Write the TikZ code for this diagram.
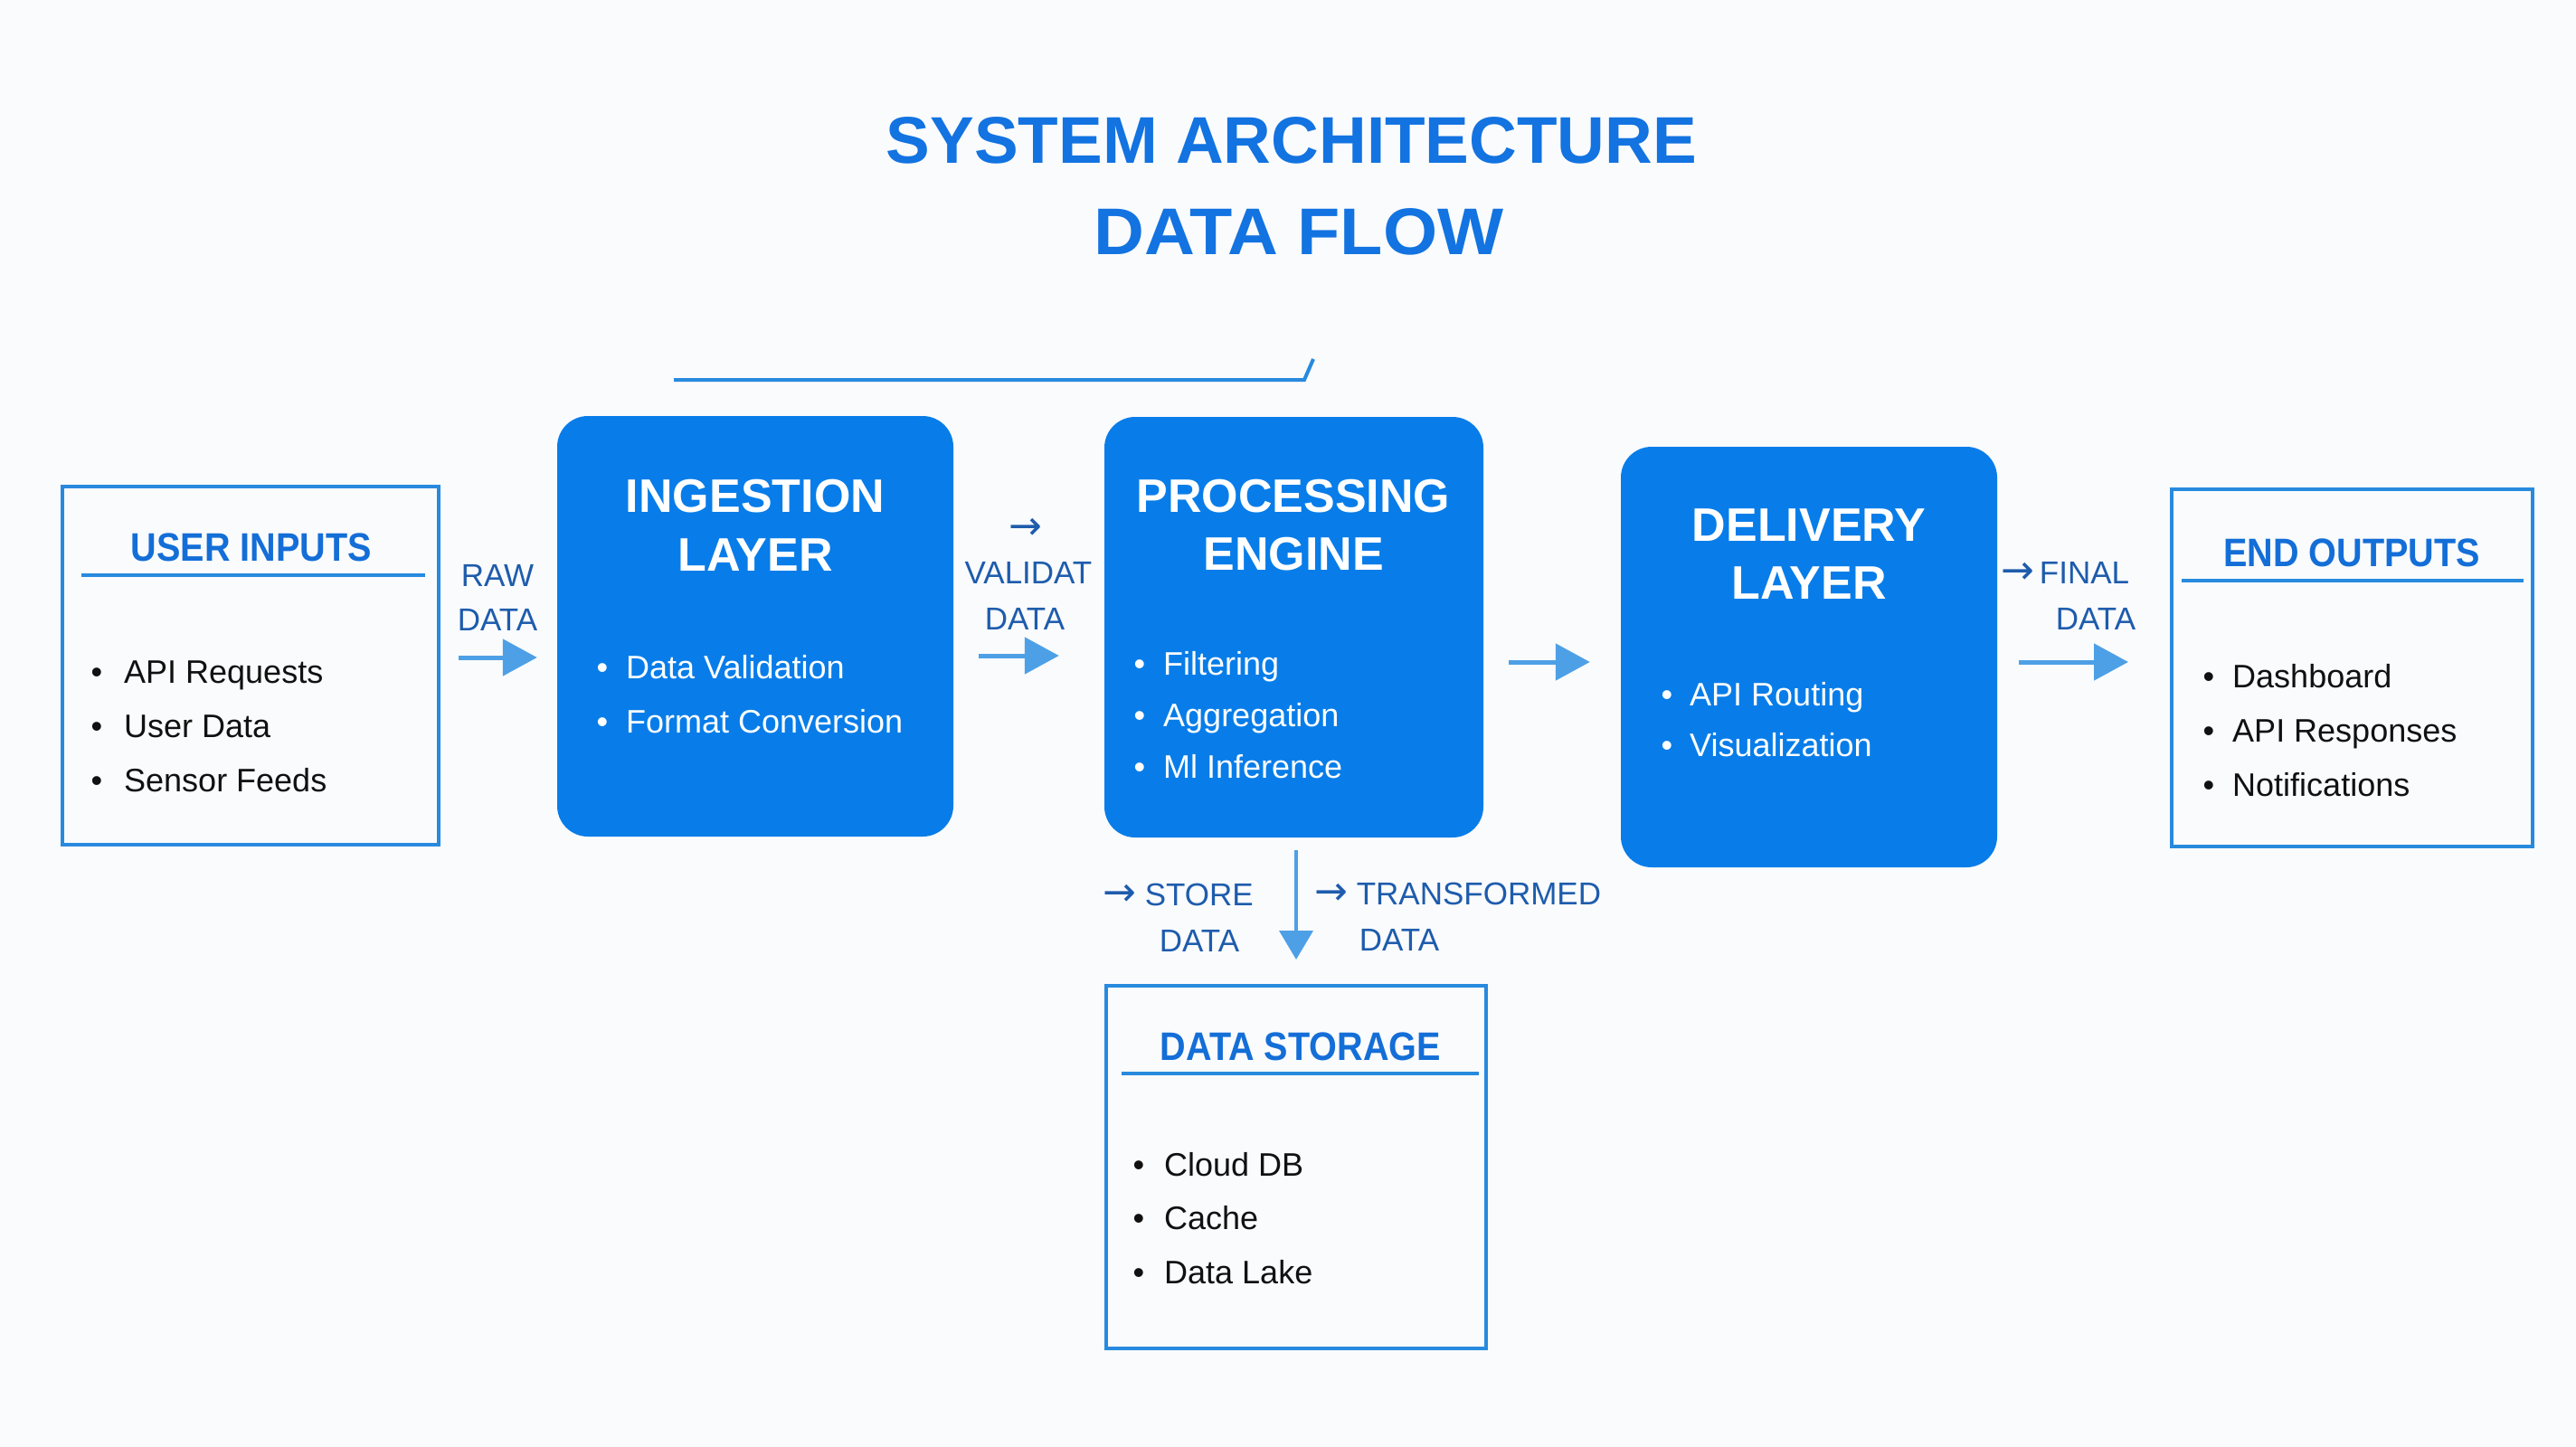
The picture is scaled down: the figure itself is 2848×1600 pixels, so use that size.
\documentclass[tikz,border=0pt]{standalone}
\usepackage{fontspec}
\setmainfont{Liberation Sans}
\newfontfamily\hfont[FakeStretch=0.9]{Liberation Sans}
\newfontfamily\arrfont{DejaVu Sans}
\usetikzlibrary{arrows.meta}
\definecolor{bg}{RGB}{250,251,253}
\definecolor{boxblue}{RGB}{8,125,233}
\definecolor{titleblue}{RGB}{18,115,225}
\definecolor{lineblue}{RGB}{40,138,222}
\definecolor{headblue}{RGB}{20,110,215}
\definecolor{arrowblue}{RGB}{78,160,230}
\definecolor{labelblue}{RGB}{30,92,172}
\definecolor{textdark}{RGB}{17,17,17}
\newcommand\bitem[5]{%
  \node[anchor=base,inner sep=0] (#1b) at (#2,#4+13) {\textbullet};
  \node[anchor=base west,inner sep=0] (#1) at (#3,#4+13) {#5};}
\newcommand\ra{{\arrfont\fontsize{44}{48}\selectfont →}}
\begin{document}
\begin{tikzpicture}[x=1pt,y=-1pt,
  fillbox/.style={draw=none,fill=boxblue,rounded corners=34pt,inner sep=0},
  outbox/.style={draw=lineblue,line width=4pt,inner sep=0},
  ttl/.style={font=\fontsize{73}{80}\selectfont\bfseries,text=titleblue,anchor=base,inner sep=0},
  fhead/.style={font=\fontsize{52}{60}\selectfont\bfseries,text=white,anchor=base,inner sep=0},
  ohead/.style={font=\hfont\fontsize{44}{50}\selectfont\bfseries,text=headblue,anchor=base,inner sep=0},
  lbl/.style={font=\fontsize{35}{40}\selectfont,text=labelblue,inner sep=0},
  uline/.style={draw=lineblue,line width=4pt},
  arr/.style={draw=arrowblue,line width=5pt,-{Triangle[length=38pt,width=40pt]}},
  darr/.style={draw=arrowblue,line width=4pt,-{Triangle[length=32pt,width=37pt]}},
  wlist/.style={font=\fontsize{36}{40}\selectfont,text=white},
  dlist/.style={font=\fontsize{36}{40}\selectfont,text=textdark}]
\path[fill=bg] (0,0) rectangle (2848,1600);

% title
\node[ttl] (t1) at (1428,180) {SYSTEM ARCHITECTURE};
\node[ttl,xscale=1.06] (t2) at (1436,281) {DATA FLOW};
\draw[uline] (745,420) -- (1442,420) -- (1452,397);

% boxes
\node[outbox,minimum width=416pt,minimum height=396pt] (userin) at (277,736) {};
\node[fillbox,minimum width=438pt,minimum height=465pt] (ingest) at (835,692.5) {};
\node[fillbox,minimum width=419pt,minimum height=465pt] (proc) at (1430.5,693.5) {};
\node[fillbox,minimum width=416pt,minimum height=465pt] (deliv) at (2000,726.5) {};
\node[outbox,minimum width=399pt,minimum height=395pt] (endout) at (2600.5,738.5) {};
\node[outbox,minimum width=420pt,minimum height=401pt] (storage) at (1433,1290.5) {};

% user inputs
\node[ohead] (uih) at (278,620) {USER INPUTS};
\draw[uline] (90,636) -- (470,636);
\begin{scope}[every node/.append style=dlist]
\bitem{ui1}{107}{137}{742}{API Requests}
\bitem{ui2}{107}{137}{802}{User Data}
\bitem{ui3}{107}{137}{862}{Sensor Feeds}
\end{scope}

% ingestion
\node[fhead] (ih1) at (835,566) {INGESTION};
\node[fhead] (ih2) at (835,631) {LAYER};
\begin{scope}[every node/.append style=wlist]
\bitem{in1}{666}{692}{737}{Data Validation}
\bitem{in2}{666}{692}{797}{Format Conversion}
\end{scope}

% processing
\node[fhead] (ph1) at (1430,566) {PROCESSING};
\node[fhead] (ph2) at (1430,630) {ENGINE};
\begin{scope}[every node/.append style=wlist]
\bitem{pr1}{1260}{1286}{733}{Filtering}
\bitem{pr2}{1260}{1286}{790}{Aggregation}
\bitem{pr3}{1260}{1286}{847}{Ml Inference}
\end{scope}

% delivery
\node[fhead] (dh1) at (2000,598) {DELIVERY};
\node[fhead] (dh2) at (2000,662) {LAYER};
\begin{scope}[every node/.append style=wlist]
\bitem{de1}{1843}{1868}{767}{API Routing}
\bitem{de2}{1843}{1868}{823}{Visualization}
\end{scope}

% end outputs
\node[ohead] (eoh) at (2600,626) {END OUTPUTS};
\draw[uline] (2412,642) -- (2790,642);
\begin{scope}[every node/.append style=dlist]
\bitem{eo1}{2442}{2468}{747}{Dashboard}
\bitem{eo2}{2442}{2468}{807}{API Responses}
\bitem{eo3}{2442}{2468}{867}{Notifications}
\end{scope}

% storage
\node[ohead] (dsh) at (1438,1172) {DATA STORAGE};
\draw[uline] (1240,1187) -- (1635,1187);
\begin{scope}[every node/.append style=dlist]
\bitem{ds1}{1259}{1287}{1287}{Cloud DB}
\bitem{ds2}{1259}{1287}{1346}{Cache}
\bitem{ds3}{1259}{1287}{1406}{Data Lake}
\end{scope}

% labels
\node[lbl,anchor=base] (l1a) at (550,648) {RAW};
\node[lbl,anchor=base] (l1b) at (550,697) {DATA};
\node[lbl,anchor=base] (l2z) at (1134,596) {\ra};
\node[lbl,anchor=base] (l2a) at (1137,645) {VALIDAT};
\node[lbl,anchor=base] (l2b) at (1133,696) {DATA};
\node[lbl,anchor=base west] (l4a) at (2212,645) {\ra\,FINAL};
\node[lbl,anchor=base] (l4b) at (2317,696) {DATA};
\node[lbl,anchor=base west] (l5a) at (1219,1001) {\ra\ STORE};
\node[lbl,anchor=base] (l5b) at (1326,1052) {DATA};
\node[lbl,anchor=base west] (l6a) at (1453,1000) {\ra\ TRANSFORMED};
\node[lbl,anchor=base] (l6b) at (1547,1051) {DATA};

% connectors
\draw[arr,shorten <=20pt,shorten >=22pt] ([yshift=9pt]userin.east) -- ([yshift=-34.5pt]ingest.west);
\draw[arr,shorten <=28pt,shorten >=50pt] ([yshift=-32.5pt]ingest.east) -- ([yshift=-31.5pt]proc.west);
\draw[arr,shorten <=28pt,shorten >=34pt] ([yshift=-38.5pt]proc.east) -- ([yshift=-5.5pt]deliv.west);
\draw[arr,shorten <=24pt,shorten >=46pt] ([yshift=-5.5pt]deliv.east) -- ([yshift=6.5pt]endout.west);
\draw[darr,shorten <=14pt,shorten >=27pt] ([xshift=2.5pt]proc.south) -- (storage.north);
\end{tikzpicture}
\end{document}
